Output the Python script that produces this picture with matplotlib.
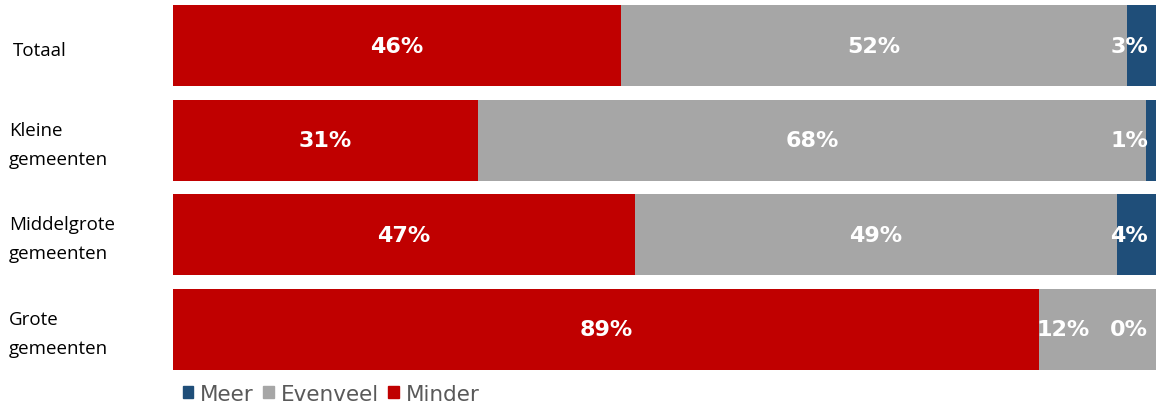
import numpy as np
import matplotlib
matplotlib.use('Agg')
import matplotlib.pyplot as plt
from matplotlib.patches import Patch

categories = ['Totaal', 'Kleine\ngemeenten', 'Middelgrote\ngemeenten', 'Grote\ngemeenten']
minder = [46, 31, 47, 89]
evenveel = [52, 68, 49, 12]
meer = [3, 1, 4, 0]

series_names = ['Minder', 'Evenveel', 'Meer']
colors = {'Minder': '#C00000', 'Evenveel': '#A6A6A6', 'Meer': '#1F4E79'}


def main():
    data = np.array([minder, evenveel, meer], dtype=float)
    shares = data / data.sum(axis=0) * 100

    fig = plt.figure(figsize=(11.58, 4.06), dpi=100)
    ax = fig.add_axes([173 / 1158, 0.0694, 983 / 1158, 0.9325])

    y = np.arange(len(categories))
    left = np.zeros(len(categories))
    labels = []
    for k, name in enumerate(series_names):
        ax.barh(y, shares[k], left=left, height=0.856, color=colors[name], edgecolor='none')
        row = []
        for i in range(len(categories)):
            t = ax.text(left[i] + shares[k][i] / 2, y[i], '%d%%' % data[k][i],
                        ha='center', va='center', color='white', fontsize=16,
                        fontweight='bold', family='DejaVu Sans')
            row.append(t)
        labels.append(row)
        left += shares[k]

    ax.set_xlim(0, 100)
    ax.set_ylim(len(categories) - 0.5, -0.5)
    ax.axis('off')

    # category labels left of the bars
    for i, cat in enumerate(categories):
        ypx = ax.transData.transform((0, y[i]))[1] - 4
        xpx = 13 if '\n' not in cat else 9
        fig.text(xpx / 1158, ypx / 406, cat,
                 ha='left', va='center', fontsize=13.5, family='Open Sans',
                 linespacing=1.8, color='black')

    # keep small labels inside the plot and apart from each other
    fig.canvas.draw()
    r = fig.canvas.get_renderer()
    inv = ax.transData.inverted()
    right_px = ax.transAxes.transform((1, 0))[0] - 8
    for i in range(len(categories)):
        limit = right_px
        for k in reversed(range(len(series_names))):
            t = labels[k][i]
            bb = t.get_window_extent(r)
            if bb.x1 > limit:
                shift = limit - bb.x1
                cx = (bb.x0 + bb.x1) / 2 + shift
                t.set_x(inv.transform((cx, 0))[0])
                x0 = bb.x0 + shift
            else:
                x0 = bb.x0
            limit = min(limit, x0 - 20)

    handles = [Patch(color=colors[n], label=n) for n in ['Meer', 'Evenveel', 'Minder']]
    leg = fig.legend(handles=handles, loc='center left', bbox_to_anchor=(174 / 1158, 1 - 395 / 406),
                     ncol=3, frameon=False, fontsize=15.5, handlelength=0.5, handleheight=0.5,
                     handletextpad=0.3, columnspacing=0.45, borderaxespad=0)
    for txt in leg.get_texts():
        txt.set_color('#595959')

    fig.savefig('out.png', dpi=100)


if __name__ == '__main__':
    main()
